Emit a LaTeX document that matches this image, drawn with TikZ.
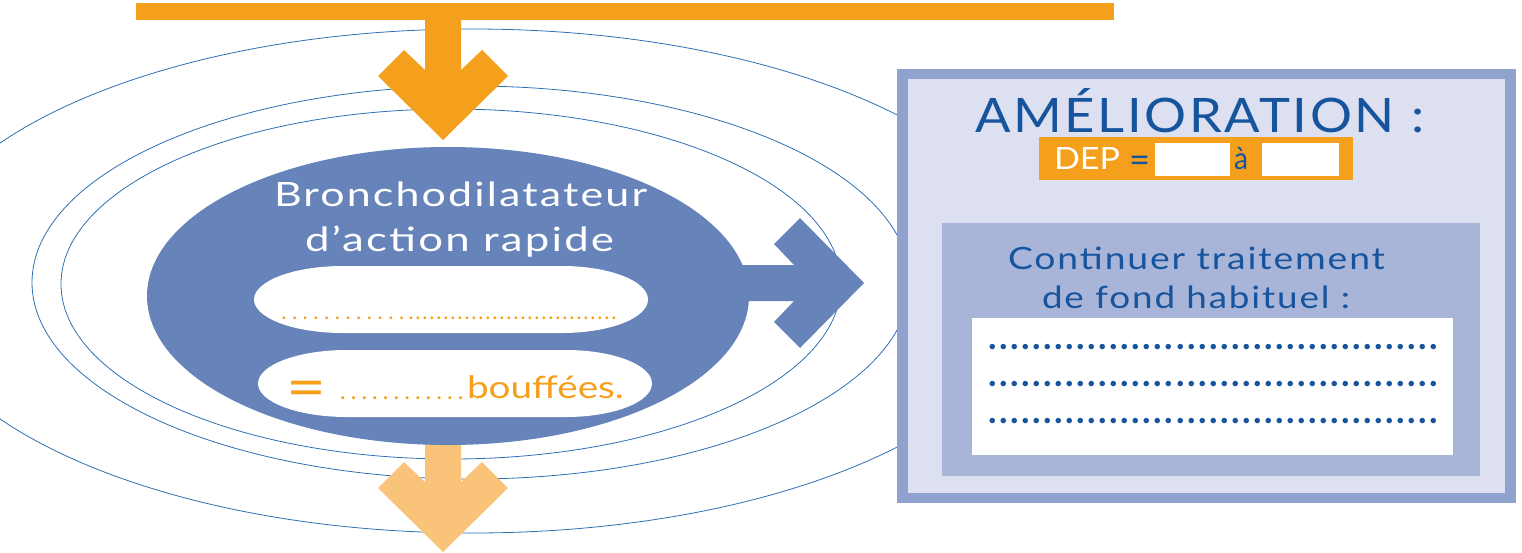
\documentclass[tikz,border=0pt]{standalone}
\usepackage{fontspec}
\usepackage{graphicx}
\setmainfont{Lato}
\newfontfamily\trk{Lato}[LetterSpace=5]
\definecolor{orng}{RGB}{244,160,28}
\definecolor{lorng}{RGB}{249,195,122}
\definecolor{bell}{RGB}{102,131,186}
\definecolor{thin}{RGB}{46,110,180}
\definecolor{bxborder}{RGB}{144,163,206}
\definecolor{bxfill}{RGB}{220,224,240}
\definecolor{bxinner}{RGB}{168,181,216}
\definecolor{dblue}{RGB}{22,84,158}
\newcommand{\fitw}[2]{\resizebox{#1}{\height}{#2}}
\newcommand{\dotrow}[2]{\hbox to \dimexpr#1pt*#2\relax{\leaders\hbox to #1pt{\hss.\hss}\hfill}}
\tikzset{
  txt/.style={inner sep=0pt, outer sep=0pt, anchor=base west},
  ring/.style={draw=thin, line width=0.8pt},
}
\begin{document}
\begin{tikzpicture}[x=1pt,y=-1pt]
\useasboundingbox (0,0) rectangle (1522,552);
\clip (0,0) rectangle (1522,552);
% rings
\draw[ring] (472.5,281) ellipse [x radius=564.5, y radius=252];
\draw[ring] (471,282.5) ellipse [x radius=439, y radius=196.5];
\draw[ring] (451,284) ellipse [x radius=390, y radius=175];
% top bar
\fill[orng] (136,3) rectangle (1114,20);
% top arrow
\begin{scope}[shift={(443,140)}]
\fill[orng] (-18,-125) -- (-18,-70) -- (-39,-90) -- (-65,-64) -- (0,0) -- (65,-64) -- (39,-90) -- (18,-70) -- (18,-125) -- cycle;
\end{scope}
% bottom arrow
\begin{scope}[shift={(443,552)}]
\fill[lorng] (-18,-120) -- (-18,-70) -- (-39,-90) -- (-65,-64) -- (0,0) -- (65,-64) -- (39,-90) -- (18,-70) -- (18,-120) -- cycle;
\end{scope}
% right arrow
\begin{scope}[shift={(864,283)}]
\fill[bell] (-164,-18) -- (-70,-18) -- (-90,-39) -- (-64,-65) -- (0,0) -- (-64,65) -- (-90,39) -- (-70,18) -- (-164,18) -- cycle;
\end{scope}
% main ellipse
\fill[bell] (448,296) ellipse [x radius=301, y radius=149];
% capsules
\fill[white] (343,266) -- (562,266) arc[start angle=-90, end angle=90, x radius=86, y radius=33.5]
  -- (343,333) arc[start angle=90, end angle=270, x radius=89, y radius=33.5] -- cycle;
\fill[white] (347,350) -- (566,350) arc[start angle=-90, end angle=90, x radius=86, y radius=33.5]
  -- (347,417) arc[start angle=90, end angle=270, x radius=89, y radius=33.5] -- cycle;
% texts in ellipse
\node[txt, text=white] (t1) at (274,206) {\fontsize{33.5}{40}\selectfont\trk\fitw{373pt}{Bronchodilatateur}};
\node[txt, text=white] (t2) at (305,251) {\fontsize{33.5}{40}\selectfont\trk\fitw{309pt}{d’action rapide}};
\node[txt, text=orng] (d1) at (278.6,319) {\fontsize{22}{24}\selectfont\dotrow{10.7}{12}};
\node[txt, text=orng] (d2) at (407.5,319) {\fontsize{22}{24}\selectfont\dotrow{7}{30}};
\node[txt, text=orng] (eq) at (286,407) {\fontsize{58}{60}\selectfont\fitw{40pt}{=}};
\node[txt, text=orng] (d3) at (337.6,399) {\fontsize{24}{26}\selectfont\dotrow{10.7}{12}};
\node[txt, text=orng] (bf) at (467,398) {\fontsize{31}{34}\selectfont\fitw{157pt}{bouffées.}};
% right box
\fill[bxborder] (897,69) rectangle (1516,503);
\fill[bxfill] (908,79) rectangle (1505,493);
\fill[bxinner] (942,223) rectangle (1480,476);
\fill[white] (972,318) rectangle (1453,455);
\fill[orng] (1039,137) rectangle (1353,180);
\fill[white] (1155,143) rectangle (1230,176);
\fill[white] (1262,143) rectangle (1339,176);
\node[txt, text=dblue] (am) at (975,132) {\fontsize{47.5}{50}\selectfont\trk\fitw{449pt}{AMÉLIORATION :}};
\node[txt, text=white] (dep) at (1054,169) {\fontsize{30.7}{33}\selectfont\fitw{66pt}{DEP}};
\node[txt, text=dblue] (eq2) at (1129,172) {\fontsize{36}{38}\selectfont\fitw{21pt}{=}};
\node[txt, text=dblue] (a) at (1234,169) {\fontsize{30.7}{33}\selectfont\fitw{14pt}{à}};
\node[txt, text=dblue] (c1) at (1008,269) {\fontsize{30.7}{33}\selectfont\trk\fitw{377pt}{Continuer traitement}};
\node[txt, text=dblue] (c2) at (1042,308) {\fontsize{30.7}{33}\selectfont\trk\fitw{308pt}{de fond habituel :}};
\node[txt, text=dblue] (r1) at (987.5,349) {\fontsize{36}{38}\selectfont\bfseries\dotrow{11}{41}};
\node[txt, text=dblue] (r2) at (987.5,386) {\fontsize{36}{38}\selectfont\bfseries\dotrow{11}{41}};
\node[txt, text=dblue] (r3) at (987.5,423) {\fontsize{36}{38}\selectfont\bfseries\dotrow{11}{41}};
\end{tikzpicture}
\end{document}
